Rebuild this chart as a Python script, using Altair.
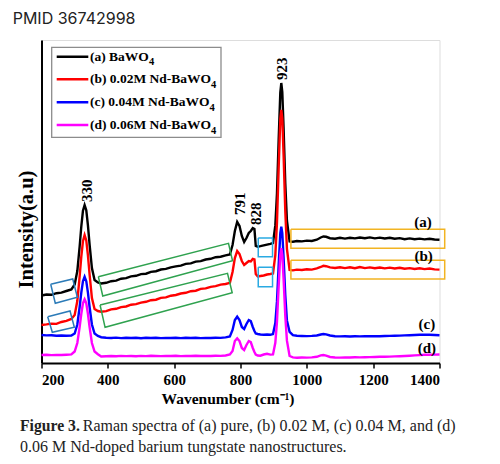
import altair as alt
import pandas as pd

# ---------------- data ----------------
wavenumber = [200, 215, 230, 245, 260, 275, 290, 300, 308, 315, 320, 325, 330, 335, 340, 345, 352, 360, 370, 380,
              395, 410, 425, 440, 455, 470, 485, 500, 515, 530, 545, 560, 575, 590, 605, 620, 635, 650, 665, 680,
              695, 710, 725, 740, 755, 768, 776, 783, 790, 797, 804, 811, 818, 825, 831, 837, 842, 846, 852, 860,
              870, 880, 890, 898, 905, 910, 915, 920, 923, 926, 930, 935, 940, 948, 958, 970, 985, 1000, 1015, 1030,
              1042, 1050, 1058, 1070, 1085, 1100, 1115, 1130, 1145, 1160, 1175, 1190, 1205, 1220, 1235, 1250, 1265,
              1280, 1295, 1310, 1325, 1340, 1355, 1370, 1385, 1400]

series_names = ["(a) BaWO4", "(b) 0.02M Nd-BaWO4", "(c) 0.04M Nd-BaWO4", "(d) 0.06M Nd-BaWO4"]
series_colors = ["#000000", "#ff0000", "#0000ff", "#ff00ff"]

int_a = [67.5, 68.5, 68.2, 69.8, 70.4, 72.0, 73.6,
         78.5, 92.0, 116.5, 136.5, 152.3, 158.0, 152.8, 137.7, 118.3, 95.0, 83.0, 80.5, 79.5,
         80.2, 81.8, 82.4, 84.3, 84.9, 86.6, 87.2, 88.9, 89.3, 91.2, 91.8, 93.5, 94.1, 95.7, 96.6, 97.4, 99.1,
         99.6, 101.4, 101.9, 103.5, 104.2, 105.8, 106.3, 107.6, 108.5,
         118, 132, 141, 137, 127, 121, 125, 130, 132, 135, 134, 117, 116.3, 116.8, 117.6, 118.4, 119.2, 120,
         137.6, 169.6, 222.4, 270.4, 280.0, 271.0, 234.0, 179.6, 142.3, 121.5, 121.2, 122.0,
         121.6, 122.4, 122.0, 123.3, 125.5, 126.5, 126.2, 124.8, 124.3, 125.2, 124.4, 125.3, 124.6, 125.5, 124.7,
         125.6, 124.6, 125.4, 124.5, 125.2, 124.3, 124.9, 123.8, 124.6, 123.7, 124.4, 123.6, 124.3, 123.5, 123.2]

int_b = [38.0, 38.6, 39.4, 39.1, 41.0, 42.2, 44.0,
         48.0, 62.0, 86.5, 106.3, 121.9, 128.0, 122.6, 107.6, 88.5, 65.0, 54.0, 52.0, 51.3,
         51.9, 53.6, 54.2, 55.9, 56.5, 58.3, 58.9, 60.4, 61.2, 62.8, 63.3, 65.1, 65.6, 67.3, 68.0, 69.5, 70.2,
         71.8, 72.3, 74.1, 74.6, 76.2, 76.9, 78.4, 79.0, 80.2,
         91, 105, 112, 109, 102, 98, 100, 102, 101.5, 104, 103.5, 89, 86.5, 87, 87.5, 88.5, 89, 89.5,
         107.9, 140.5, 194.8, 244.2, 253.0, 244.7, 207.5, 152.3, 114.2, 93.0, 92.6, 93.4,
         93.0, 93.8, 93.4, 94.6, 96.0, 97.2, 96.8, 95.6, 95.0, 95.8, 94.9, 95.7, 94.8, 95.9, 94.9,
         95.6, 94.7, 95.5, 94.6, 95.4, 94.5, 95.2, 94.3, 94.9, 94.0, 94.8, 93.9, 94.5, 93.6, 93.4]

int_c = [28.0, 27.6, 27.8, 27.3, 27.5, 27.2, 27.4,
         29.5, 38.5, 56.0, 70.4, 81.8, 86.3, 81.8, 70.4, 56.0, 38.5, 29.5, 27.0, 25.8,
         25.3, 25.0, 25.4, 24.9, 25.2, 25.0, 25.3, 24.8, 25.2, 25.0, 25.3, 24.9, 25.1, 25.0, 25.3, 24.9, 25.2,
         25.0, 25.3, 24.9, 25.1, 25.0, 25.2, 25.1, 25.6, 26.5,
         33, 43, 46.3, 43, 36, 34, 39, 43, 42, 36, 32, 29.5, 29.0, 28.5, 28.3, 28.5, 28.2, 29.0,
         39.9, 61.6, 97.3, 129.8, 136.3, 129.8, 104.9, 68.0, 42.6, 31.2, 27.8, 27.2,
         27.0, 26.9, 27.1, 27.5, 28.5, 29.0, 28.6, 27.5, 26.8, 26.6, 26.8, 26.5, 26.7, 26.6, 26.8,
         26.7, 26.9, 26.8, 27.0, 27.1, 27.3, 27.4, 27.6, 27.8, 28.0, 28.2, 28.3, 28.2, 28.0, 27.8]

int_d = [8.0, 8.2, 7.9, 8.1, 8.0, 8.3, 8.6,
         11.5, 20.0, 35.9, 49.2, 59.8, 63.7, 59.8, 49.2, 35.9, 20.0, 11.5, 8.8, 6.5,
         6.8, 7.0, 6.7, 7.1, 6.9, 7.0, 6.8, 7.1, 6.9, 7.2, 7.0, 6.9, 7.1, 7.0, 7.2, 6.9, 7.1,
         7.0, 7.2, 7.0, 7.1, 7.0, 7.2, 7.1, 7.5, 8.5,
         12, 22, 24.7, 22, 15, 13, 18, 22, 21, 15, 11, 8.5, 7.5, 7.3, 8.5, 9.2, 8.4, 8.6,
         20.2, 41.4, 76.3, 108.1, 114.7, 108.1, 83.6, 47.2, 22.3, 7.0, 5.6, 5.3,
         5.5, 5.4, 5.6, 6.2, 7.6, 8.0, 7.4, 6.0, 5.5, 5.4, 5.6, 5.5, 5.7, 5.6, 5.8,
         5.9, 6.0, 6.2, 6.3, 6.4, 6.6, 6.8, 7.0, 7.3, 7.6, 7.9, 8.2, 8.3, 8.4, 8.5]

x_ticks = [200, 400, 600, 800, 1000, 1200, 1400]

peak_labels = ["330", "791", "828", "923"]
peak_label_w = [336, 797, 846, 925]
peak_label_i = [161, 148, 138, 283]

curve_labels = ["(a)", "(b)", "(c)", "(d)"]
curve_label_w = [1350, 1352, 1362, 1362]
curve_label_i = [141, 107, 39, 15]

# legend text: main part and the subscript "4"
legend_main = ["(a) BaWO", "(b) 0.02M Nd-BaWO", "(c) 0.04M Nd-BaWO", "(d) 0.06M Nd-BaWO"]
legend_sub = ["4", "4", "4", "4"]

# highlight boxes (corners in wavenumber / intensity)
box_groups = ["blue", "blue", "green", "green", "cyan", "cyan", "gold", "gold"]
box_group_colors = {"blue": "#2c7bb8", "green": "#2fa24f", "cyan": "#2aaae2", "gold": "#f2b422"}
box_w = [[227.8, 294.2, 308.1, 241.6], [218.7, 286.0, 299.0, 232.6],
         [371.4, 763.8, 775.9, 384.7], [376.6, 760.8, 775.0, 391.7],
         [853.5, 896.6, 896.6, 853.5], [853.5, 896.6, 896.6, 853.5],
         [952.0, 1415.7, 1415.7, 952.0], [952.0, 1415.7, 1415.7, 952.0]]
box_i = [[78.7, 84.0, 65.7, 59.7], [46.3, 52.0, 35.7, 30.7],
         [86.3, 119.7, 102.3, 67.0], [58.0, 89.7, 70.3, 35.7],
         [125.0, 125.0, 106.3, 106.3], [95.7, 95.7, 76.3, 76.3],
         [133.7, 133.7, 114.7, 114.7], [102.7, 102.7, 84.0, 84.0]]

pmid_text = "PMID 36742998"
caption_bold = "Figure 3."
caption_line1 = "Raman spectra of (a) pure, (b) 0.02 M, (c) 0.04 M, and (d)"
caption_line2 = "0.06 M Nd-doped barium tungstate nanostructures."

# ---------------- layout (pixels, relative to the plot area) ----------------
LEG_BOX = (10.2, 179.5, 7.3, 97.3)
LEG_ROW_Y = [16.7, 39.3, 62.3, 85.0]
LEG_LINE_X = (15.2, 46.8)
LEG_TEXT_X = 48.5
LEG_SUB_X = [107.4, 169.6, 168.1, 169.6]

# ---------------- tables ----------------
rows = []
for name, vals in zip(series_names, [int_a, int_b, int_c, int_d]):
    for w, v in zip(wavenumber, vals):
        rows.append({"series": name, "w": w, "I": v})
spectra = pd.DataFrame(rows)

box_rows = []
for k, (g, ws, is_) in enumerate(zip(box_groups, box_w, box_i)):
    for j in range(5):
        box_rows.append({"box": k, "group": g, "ord": j, "w": ws[j % 4], "I": is_[j % 4]})
boxes = pd.DataFrame(box_rows)

peaks_df = pd.DataFrame({"label": peak_labels, "w": peak_label_w, "I": peak_label_i})
curves_df = pd.DataFrame({"label": curve_labels, "w": curve_label_w, "I": curve_label_i})

SERIF = "Liberation Serif"

xscale = alt.Scale(domain=[200, 1400], nice=False, zero=False)
yscale = alt.Scale(domain=[0, 323], nice=False, zero=False)

x_axis = alt.Axis(values=x_ticks, format="d", labelFont=SERIF, labelFontSize=15, labelFontWeight="bold",
                  labelColor="black", labelPadding=4, tickSize=5, tickWidth=1.5, tickColor="black",
                  domainColor="black", domainWidth=2, grid=False, titleFont=SERIF, titleFontSize=15.5,
                  titleFontWeight="bold", titleColor="black", titlePadding=4, titleX=186)
y_axis = alt.Axis(labels=False, ticks=False, grid=False, domainColor="black", domainWidth=2,
                  titleFont=SERIF, titleFontSize=20.5, titleFontWeight="bold", titleColor="black",
                  titleAngle=270, titleX=-15, titleY=189, titleAlign="center", titleBaseline="middle")

lines = alt.Chart(spectra).mark_line(strokeWidth=2.4).encode(
    x=alt.X("w:Q", scale=xscale, axis=x_axis, title="Wavenumber (cm⁻¹)"),
    y=alt.Y("I:Q", scale=yscale, axis=y_axis, title="Intensity(a.u)"),
    color=alt.Color("series:N", scale=alt.Scale(domain=series_names, range=series_colors), legend=None),
)

box_layers = []
for g, col in box_group_colors.items():
    box_layers.append(
        alt.Chart(boxes[boxes["group"] == g]).mark_line(strokeWidth=1.5, color=col, clip=False).encode(
            x=alt.X("w:Q", scale=xscale), y=alt.Y("I:Q", scale=yscale),
            detail="box:N", order="ord:Q")
    )

peak_text = alt.Chart(peaks_df).mark_text(angle=270, align="left", baseline="middle", font=SERIF,
                                          fontSize=15, fontWeight="bold", color="black").encode(
    x="w:Q", y="I:Q", text="label:N")

curve_text = alt.Chart(curves_df).mark_text(align="center", baseline="middle", font=SERIF,
                                            fontSize=15, fontWeight="bold", color="black").encode(
    x="w:Q", y="I:Q", text="label:N")

# ---------------- legend ----------------
one = pd.DataFrame({"k": [0]})
legend_layers = [
    alt.Chart(one).mark_rect(fill="white", stroke="#8c8c8c", strokeWidth=1.3).encode(
        x=alt.value(LEG_BOX[0]), x2=alt.value(LEG_BOX[1]), y=alt.value(LEG_BOX[2]), y2=alt.value(LEG_BOX[3]))
]
for col, main, sub, ry, sx in zip(series_colors, legend_main, legend_sub, LEG_ROW_Y, LEG_SUB_X):
    legend_layers.append(alt.Chart(one).mark_rule(color=col, strokeWidth=2.5).encode(
        x=alt.value(LEG_LINE_X[0]), x2=alt.value(LEG_LINE_X[1]), y=alt.value(ry)))
    legend_layers.append(alt.Chart(one).mark_text(align="left", baseline="middle", font=SERIF, fontSize=13.5,
                                                  fontWeight="bold", color="black").encode(
        x=alt.value(LEG_TEXT_X), y=alt.value(ry), text=alt.value(main)))
    legend_layers.append(alt.Chart(one).mark_text(align="left", baseline="middle", font=SERIF, fontSize=10.5,
                                                  fontWeight="bold", color="black").encode(
        x=alt.value(sx), y=alt.value(ry + 5.5), text=alt.value(sub)))

# ---------------- caption ----------------
cap1b = alt.Chart(one).mark_text(align="left", baseline="alphabetic", font=SERIF, fontSize=15.7,
                                 fontWeight="bold", color="#222").encode(
    x=alt.value(-21.5), y=alt.value(391), text=alt.value(caption_bold))
cap1 = alt.Chart(one).mark_text(align="left", baseline="alphabetic", font=SERIF, fontSize=16,
                                color="#222").encode(
    x=alt.value(41.3), y=alt.value(391), text=alt.value(caption_line1))
cap2 = alt.Chart(one).mark_text(align="left", baseline="alphabetic", font=SERIF, fontSize=16,
                                color="#222").encode(
    x=alt.value(-21.5), y=alt.value(412), text=alt.value(caption_line2))

chart = alt.layer(lines, *box_layers, peak_text, curve_text, *legend_layers, cap1b, cap1, cap2).properties(
    width=398, height=323,
    title=alt.TitleParams(pmid_text, anchor="start", frame="group", dx=-28.8, offset=13, font="Inter",
                          fontSize=16, fontWeight="normal", color="#222"),
    autosize=alt.AutoSizeParams(type="none"),
    padding={"left": 33.5, "top": 32, "right": 20, "bottom": 93},
).configure_view(stroke="black", strokeWidth=2).configure(background="white")

chart.save("out.html", embed_options={"renderer": "svg", "actions": False})
